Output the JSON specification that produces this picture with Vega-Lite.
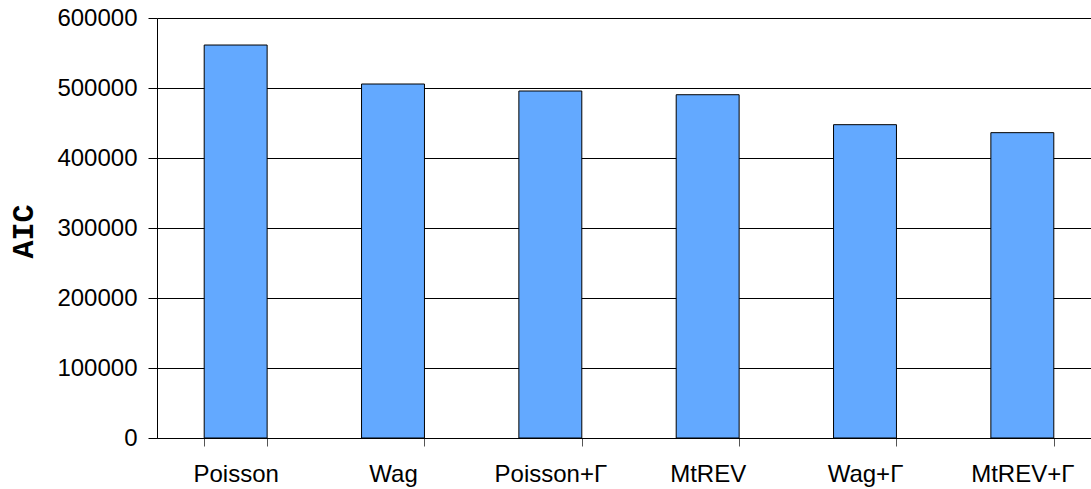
{
  "$schema": "https://vega.github.io/schema/vega-lite/v6.json",
  "autosize": "none",
  "width": 934,
  "height": 420,
  "padding": {"left": 157, "top": 18, "right": 0, "bottom": 51},
  "background": "white",
  "data": {"values": [
    {"model": "Poisson", "aic": 561400},
    {"model": "Wag", "aic": 505700},
    {"model": "Poisson+Γ", "aic": 495700},
    {"model": "MtREV", "aic": 490400},
    {"model": "Wag+Γ", "aic": 447600},
    {"model": "MtREV+Γ", "aic": 436200}
  ]},
  "config": {
    "view": {"stroke": null},
    "axis": {"labelFont": "Liberation Sans", "labelFontSize": 24, "labelColor": "black"}
  },
  "mark": {"type": "bar", "color": "#63A9FF", "stroke": "black", "strokeWidth": 1},
  "encoding": {
    "x": {
      "field": "model", "type": "nominal", "sort": null,
      "scale": {"range": [0, 944], "paddingInner": 0.6, "paddingOuter": 0.3},
      "axis": {
        "title": null, "labelAngle": 0, "domainColor": "black", "tickColor": "#555555",
        "tickSize": 8, "tickBand": "extent", "labelPadding": 16, "grid": false
      }
    },
    "y": {
      "field": "aic", "type": "quantitative",
      "scale": {"domain": [0, 600000], "nice": false},
      "axis": {
        "title": "AIC", "titleFont": "Liberation Mono", "titleFontWeight": "bold", "titleFontSize": 30,
        "titleColor": "black", "titleAngle": -90, "titleX": -134, "titleY": 213,
        "titleAlign": "center", "titleBaseline": "middle",
        "values": [0, 100000, 200000, 300000, 400000, 500000, 600000],
        "format": "d", "domainColor": "black", "tickColor": "black", "tickSize": 9, "labelPadding": 11,
        "grid": true, "gridColor": "black", "gridOpacity": 1, "gridWidth": 1
      }
    }
  }
}
